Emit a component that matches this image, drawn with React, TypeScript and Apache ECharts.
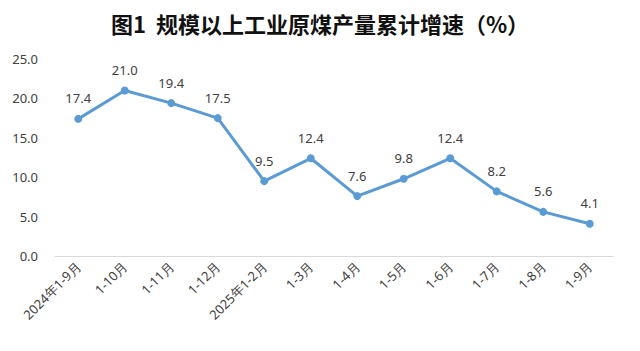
import React, { useEffect, useRef } from "react";
import * as echarts from "echarts";

const categories = ["2024年1-9月", "1-10月", "1-11月", "1-12月", "2025年1-2月", "1-3月", "1-4月", "1-5月", "1-6月", "1-7月", "1-8月", "1-9月"];
const growth = [17.4, 21.0, 19.4, 17.5, 9.5, 12.4, 7.6, 9.8, 12.4, 8.2, 5.6, 4.1];
const title = "图1  规模以上工业原煤产量累计增速（%）";

export default function App() {
  const ref = useRef<HTMLDivElement>(null);
  useEffect(() => {
    if (!ref.current) return;
    const chart = echarts.init(ref.current, null, { renderer: "svg" });
    chart.setOption({
      animation: false,
      backgroundColor: "#ffffff",
      title: {
        text: title,
        left: "center",
        top: 7,
        textStyle: { fontFamily: "Noto Sans CJK SC", fontWeight: "bold", fontSize: 22, color: "#111111" },
      },
      grid: { left: 55, right: 27, top: 59, bottom: 95 },
      xAxis: {
        type: "category",
        data: categories,
        boundaryGap: true,
        axisLine: { show: true, lineStyle: { color: "#d9d9d9", width: 1 } },
        axisTick: { show: false },
        axisLabel: { rotate: 45, fontSize: 13, color: "#404040", fontFamily: "Noto Sans", interval: 0, margin: 8 },
      },
      yAxis: {
        type: "value",
        min: 0,
        max: 25,
        interval: 5,
        axisLine: { show: false },
        axisTick: { show: false },
        splitLine: { show: false },
        axisLabel: { formatter: (v: number) => v.toFixed(1), fontSize: 13, color: "#404040", fontFamily: "Noto Sans", margin: 17 },
      },
      series: [
        {
          type: "line",
          data: growth,
          symbol: "circle",
          symbolSize: 8,
          lineStyle: { color: "#5b9bd5", width: 3 },
          itemStyle: { color: "#5b9bd5" },
          label: {
            show: true,
            position: "top",
            distance: 10,
            formatter: (p: any) => Number(p.value).toFixed(1),
            fontSize: 13,
            color: "#404040",
            fontFamily: "Noto Sans",
          },
        },
      ],
    });
    return () => chart.dispose();
  }, []);
  return <div ref={ref} style={{ width: 640, height: 351, position: "absolute", left: 0, top: 0 }} />;
}
